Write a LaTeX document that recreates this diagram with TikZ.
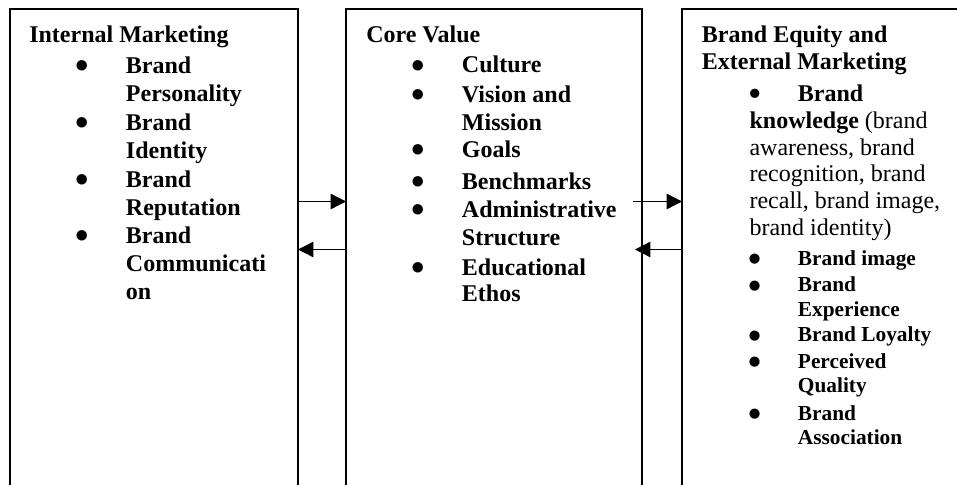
\documentclass[tikz,border=0pt]{standalone}
\usepackage{fontspec}
\setmainfont{Liberation Serif}
\usetikzlibrary{arrows.meta}
\newcommand\bigbul{\raisebox{-0.22em}{\scalebox{1.6}{\textbullet}}}
\newcommand\smallbul{\raisebox{-0.3em}{\scalebox{1.75}{\textbullet}}}
\newcommand\itembul{\llap{\makebox[0pt][c]{\bigbul}\hspace{32.5pt}}}
\newcommand\itembulsmall{\llap{\makebox[0pt][c]{\smallbul}\hspace{32.5pt}}}
\begin{document}
\begin{tikzpicture}[x=0.75pt,y=-0.75pt,
  box/.style={draw, line width=1.5pt, rectangle, inner sep=0pt, outer sep=0pt, anchor=north west, minimum height=383pt},
  conn/.style={line width=1pt, -{Triangle[length=11.5pt,width=11.5pt]}},
  big/.style={font=\fontsize{18}{21.3}\selectfont\bfseries, align=left, inner sep=0pt, anchor=base west},
  small/.style={font=\fontsize{16}{18.2}\selectfont\bfseries, align=left, inner sep=0pt, anchor=base west},
  plain/.style={font=\fontsize{18}{20}\selectfont, align=left, inner sep=0pt, anchor=base west}]
\useasboundingbox (0,0) rectangle (957,485);
\clip (0,0) rectangle (957,485);
% boxes
\node[box, minimum width=216pt] (b1) at (10,9.5) {};
\node[box, minimum width=222pt] (b2) at (346,9.5) {};
\node[box, minimum width=240pt] (b3) at (682,9.5) {};
% box 1 (multi-line nodes are placed at the baseline of their last line)
\node[big] (t1) at (29,43) {Internal Marketing};
\node[big] (i11) at (125.7,101.4) {\itembul Brand\\Personality};
\node[big] (i12) at (125.7,158.4) {\itembul Brand\\Identity};
\node[big] (i13) at (125.7,215.4) {\itembul Brand\\Reputation};
\node[big] (i14) at (125.7,299.8) {\itembul Brand\\Communicati\\on};
% box 2
\node[big] (t2) at (366,43) {Core Value};
\node[big] (i21) at (461.7,73) {\itembul Culture};
\node[big] (i22) at (461.7,130.4) {\itembul Vision and\\Mission};
\node[big] (i23) at (461.7,157.3) {\itembul Goals};
\node[big] (i24) at (461.7,189.3) {\itembul Benchmarks};
\node[big] (i25) at (461.7,245.7) {\itembul Administrative\\Structure};
\node[big, font=\fontsize{18}{19.5}\selectfont\bfseries] (i26) at (461.7,301) {\itembul Educational\\Ethos};
% box 3
\node[big, font=\fontsize{18}{20}\selectfont\bfseries] (t3) at (701.7,69.3) {Brand Equity and\\External Marketing};
\node[plain] (k3) at (749.3,235) {\hspace*{4.3pt}\makebox[0pt][c]{\bigbul}\hspace*{32pt}\textbf{Brand}\\\textbf{knowledge} (brand\\awareness, brand\\recognition, brand\\recall, brand image,\\brand identity)};
\node[small] (s31) at (797.7,265) {\itembulsmall Brand image};
\node[small] (s32) at (797.7,316) {\itembulsmall Brand\\Experience};
\node[small] (s33) at (797.7,341.7) {\itembulsmall Brand Loyalty};
\node[small] (s34) at (797.7,392.6) {\itembulsmall Perceived\\Quality};
\node[small] (s35) at (797.7,444.3) {\itembulsmall Brand\\Association};
% connectors
\coordinate (ya) at (0,201.5);
\coordinate (yb) at (0,249.5);
\coordinate (s2) at (633,201.5);
\coordinate (e2) at (635,249.5);
\draw[conn] (b1.east |- ya) -- (b2.west |- ya);
\draw[conn] (b2.west |- yb) -- (b1.east |- yb);
\draw[conn] (s2) -- (b3.west |- ya);
\draw[conn] (b3.west |- yb) -- (e2);
\end{tikzpicture}
\end{document}
